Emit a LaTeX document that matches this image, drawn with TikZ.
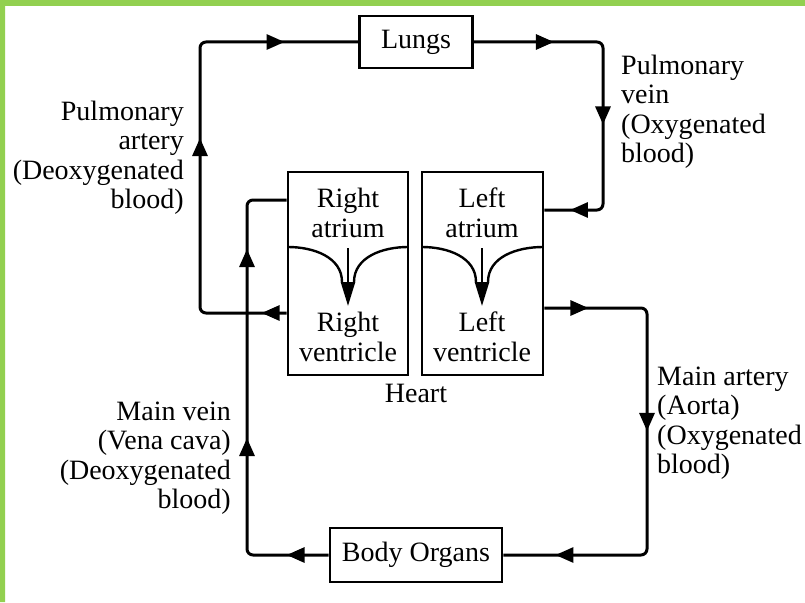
\documentclass[tikz,border=0pt]{standalone}
\usepackage{fontspec}
\setmainfont{Liberation Serif}
\usetikzlibrary{arrows.meta,decorations.markings}
\definecolor{barGreen}{HTML}{92D050}
\tikzset{
  box/.style={draw, line width=2.8pt},
  flow/.style={line width=3pt, rounded corners=6pt},
  wall/.style={line width=2.4pt},
  tipat/.style={postaction={decorate,decoration={markings,mark=at position #1 with {\arrow{>}}}}}
}

\begin{document}
\begin{tikzpicture}[x=1pt,y=-1pt,>={Triangle[length=18pt,width=15pt]},
  every node/.style={font=\fontsize{28}{29.5}\selectfont, inner sep=0pt}]
\useasboundingbox (0,0) rectangle (805,602);
\fill[barGreen] (0,0) rectangle (805,6) (0,0) rectangle (5,602);
\node[box,minimum width=113pt,minimum height=52pt] (lungs) at (416,42) {Lungs};
\node[box,minimum width=172pt,minimum height=54pt] (organs) at (416,555) {Body Organs};
\node[box,minimum width=120pt,minimum height=203pt] (rside) at (348,273.5) {};
\node[box,minimum width=121pt,minimum height=203pt] (lside) at (482.5,273.5) {};
\node[align=center] (ratrium) at (348,213) {Right\\atrium};
\node[align=center] (latrium) at (482,213) {Left\\atrium};
\node[align=center] (rventricle) at (348,337) {Right\\ventricle};
\node[align=center] (lventricle) at (482,337) {Left\\ventricle};
\node (heart) at (416,393) {Heart};
\draw[wall] (288,247) to[out=0,in=90] (342,282) (408,247) to[out=180,in=90] (354,282) ;
\draw[wall] (422,247) to[out=0,in=90] (476,282) (543,247) to[out=180,in=90] (488,282) ;
\draw[wall,-{Triangle[length=24pt,width=14pt]}] (348,248) to (348,306) ;
\draw[wall,-{Triangle[length=24pt,width=14pt]}] (482,248) to (482,306) ;
\coordinate (pa) at (200,313);
\coordinate (pv) at (603,210);
\coordinate (ao) at (647,308);
\coordinate (vc) at (247,200);
\draw[flow,tipat=25pt,tipat=259pt,tipat=437pt] (rside.west |- pa) -- (pa) -- (pa |- lungs) -- (lungs.west) ;
\draw[flow,tipat=80pt,tipat=209pt,tipat=325pt] (lungs.east) -- (lungs.east -| pv) -- (pv) -- (pv -| lside.east) ;
\draw[flow,tipat=44pt,tipat=223pt,tipat=436pt] (ao -| lside.east) -- (ao) -- (ao |- organs) -- (organs.east) ;
\draw[flow,tipat=42pt,tipat=196pt,tipat=385pt,tipat=473pt] (organs.west) -- (organs.west -| vc) -- (vc) -- (vc -| rside.west) ;
\node[anchor=east,align=right] (palbl) at (184,158) {Pulmonary\\artery\\(Deoxygenated\\blood)};
\node[anchor=west,align=left] (pvlbl) at (621,112) {Pulmonary\\vein\\(Oxygenated\\blood)};
\node[anchor=west,align=left] (aolbl) at (657,423) {Main artery\\(Aorta)\\(Oxygenated\\blood)};
\node[anchor=east,align=right] (vclbl) at (231,458) {Main vein\\(Vena cava)\\(Deoxygenated\\blood)};
\end{tikzpicture}
\end{document}
